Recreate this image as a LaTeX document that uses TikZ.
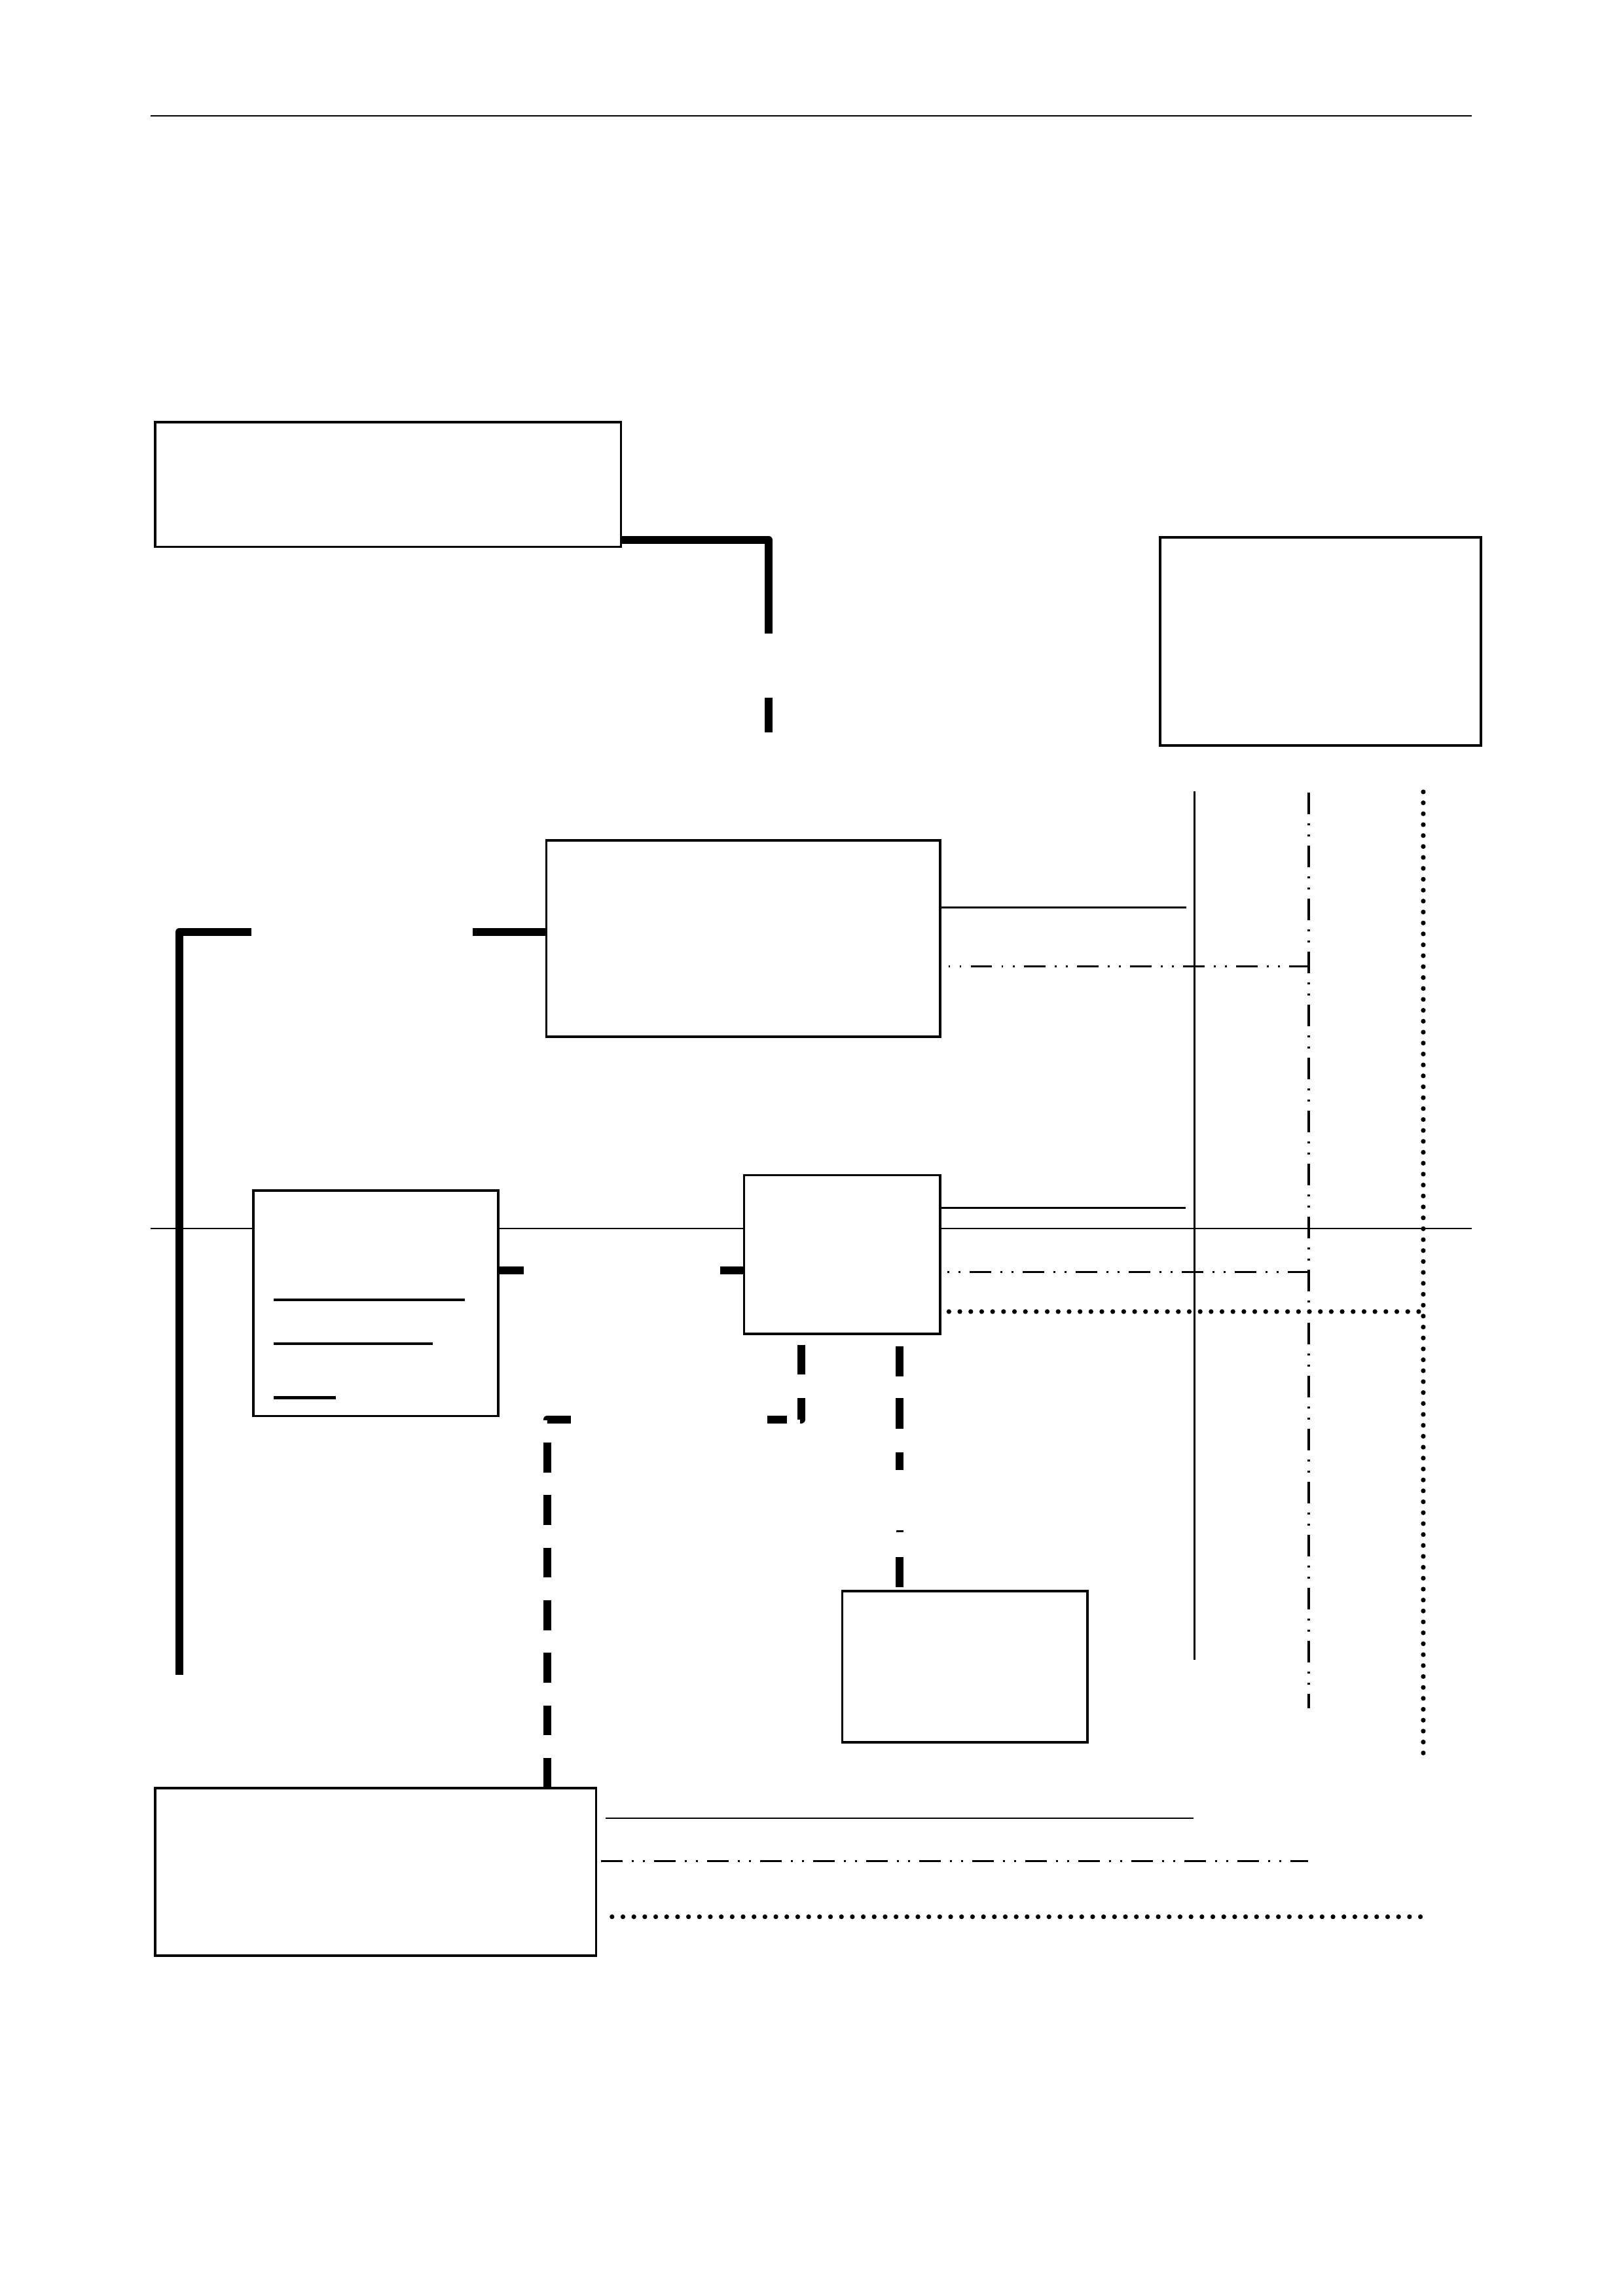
\documentclass[tikz,border=0pt]{standalone}
\usetikzlibrary{fit}
\begin{document}
\begin{tikzpicture}[x=0.539pt,y=-0.539pt,
  box/.style={draw, line width=0.9pt, fill=white, inner sep=0pt},
  rulel/.style={line width=0.45pt},
  thickline/.style={line width=2.9pt, line join=round},
  thinsolid/.style={line width=0.7pt},
  vsolid/.style={line width=0.55pt},
  dashdotdot/.style={line width=0.9pt, dash pattern=on 7.92pt off 3.4pt on 0.7pt off 3.4pt on 0.7pt off 3.4pt},
  dotline/.style={line width=1.75pt, line cap=round, dash pattern=on 0pt off 4.02pt},
  uline/.style={line width=1pt}]
\fill[white] (0,0) rectangle (1108,1568);
\useasboundingbox (0,0) rectangle (1108,1568);
% page rules
\coordinate (r1a) at (103,79); \coordinate (r1b) at (1005,79);
\coordinate (r2a) at (103,839); \coordinate (r2b) at (1005,839);
\draw[rulel] (r1a) -- (r1b);
\draw[rulel] (r2a) -- (r2b);
% boxes
\node[box, fit={(106,288.3) (424,373.5)}] (A) {};
\node[box, fit={(792,367) (1011,509)}] (C) {};
\node[box, fit={(373,574) (642,708)}] (B) {};
\node[box, fit={(173,813) (340,967)}] (F) {};
\node[box, fit={(508,802.5) (642,911)}] (D) {};
\node[box, fit={(575,1086.6) (742.5,1190)}] (G) {};
\node[box, fit={(106,1221) (407,1335.5)}] (E) {};
% underlines in F
\coordinate (u1a) at (186.9,887.7); \coordinate (u1b) at (317.3,887.7);
\coordinate (u2a) at (186.9,917.5); \coordinate (u2b) at (295.5,917.5);
\coordinate (u3a) at (186.9,954.5); \coordinate (u3b) at (229.3,954.5);
\draw[uline] (u1a) -- (u1b);
\draw[uline] (u2a) -- (u2b);
\draw[uline] (u3a) -- (u3b);
% bus lines
\coordinate (sTop) at (815.5,540.5); \coordinate (sBot) at (815.5,1133.5);
\coordinate (dTop) at (893.5,541.3); \coordinate (dBot) at (893.5,1166.8);
\coordinate (oTop) at (971.7,540.8); \coordinate (oBot) at (971.7,1197.4);
\draw[vsolid] (sTop) -- (sBot);
\draw[dashdotdot] (dTop) -- (dBot);
\draw[dotline] (oTop) -- (oBot);
% thick connectors
\coordinate (p1) at (524.6,368.7);
\draw[thickline, dash pattern=on 88.2pt off 23.6pt on 12.9pt off 50pt] (A.east |- p1) -| (B.north -| p1);
\coordinate (q1) at (122.5,636.5);
\draw[thickline, dash pattern=on 26.7pt off 81.4pt on 299.8pt off 60pt] (B.west |- q1) -| (E.north -| q1);
\coordinate (r0) at (0,867.6);
\draw[thickline, dash pattern=on 9.06pt off 72.2pt on 9.2pt off 20pt] (F.east |- r0) -- (D.west |- r0);
\coordinate (t1) at (547,969.3); \coordinate (t2) at (373.7,969.3);
\draw[thickline, dash pattern=on 0pt off 3.56pt on 11.0pt off 8.62pt on 8.25pt off 4.85pt on 7.17pt off 72.2pt on 9.16pt off 8.09pt on 11pt off 8.35pt on 11pt off 8.35pt on 11pt off 8.35pt on 11pt off 8.35pt on 11pt off 8.35pt on 11pt off 8.35pt on 11.5pt off 20pt] (D.south -| t1) -- (t1) -- (t2) -- (E.north -| t2);
\coordinate (g0) at (614,0);
\draw[thickline, dash pattern=on 0pt off 4.10pt on 11.0pt off 8.09pt on 11.3pt off 8.62pt on 6.47pt off 32.0pt on 11.1pt off 10pt] (D.south -| g0) -- (G.north -| g0);
\coordinate (k1) at (612,1045.7); \coordinate (k2) at (617,1045.7);
\draw[line width=0.9pt] (k1) -- (k2);
% B to bus
\coordinate (bS) at (809.7,619.6);
\coordinate (bD) at (893.5,660);
\draw[thinsolid] (B.east |- bS) -- (bS);
\draw[dashdotdot, dash phase=11.3pt, shorten <=2.48pt] (B.east |- bD) -- (bD);
% D to bus
\coordinate (dS) at (809.6,825);
\coordinate (dD) at (893.5,868.7);
\coordinate (dO) at (971.7,895.7);
\draw[thinsolid] (D.east |- dS) -- (dS);
\draw[dashdotdot, dash phase=11.3pt, shorten <=2.16pt] (D.east |- dD) -- (dD);
\draw[dotline, shorten <=2.7pt] (D.east |- dO) -- (dO);
% E lines
\coordinate (eS) at (815,1241.7);
\coordinate (eD) at (893,1271);
\coordinate (eO) at (973,1309);
\draw[thinsolid, shorten <=2.96pt] (E.east |- eS) -- (eS);
\draw[dashdotdot, shorten <=1.35pt] (E.east |- eD) -- (eD);
\draw[dotline, shorten <=5.39pt] (E.east |- eO) -- (eO);
\end{tikzpicture}
\end{document}
